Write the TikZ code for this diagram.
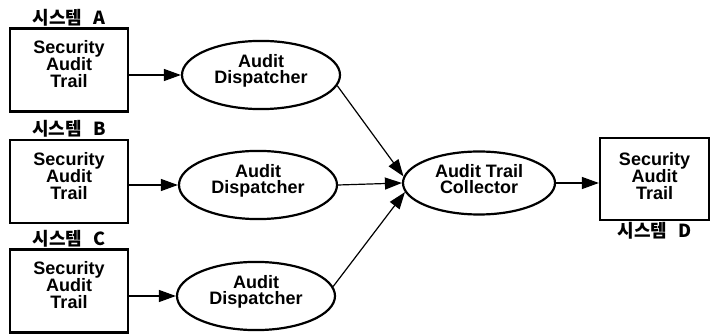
\documentclass[tikz,border=0pt]{standalone}
\usepackage{fontspec}
\setmainfont{Liberation Sans}
\newfontfamily\kor{Noto Sans CJK KR}
\usetikzlibrary{arrows.meta, shapes.geometric}

\tikzset{
    trailbox/.style={draw, line width=2.2pt, minimum width=118pt, minimum height=83pt,
        align=center, text depth=12pt, font=\bfseries\fontsize{18}{17}\selectfont},
    agent/.style={draw, ellipse, line width=2.2pt, minimum width=158pt, minimum height=64pt,
        align=center, text depth=12pt, font=\bfseries\fontsize{18}{16.5}\selectfont},
    sysname/.style={font=\kor\bfseries\fontsize{18}{18}\selectfont, inner sep=1pt},
    feed/.style={-{Triangle[length=17pt,width=12pt]}, line width=1.2pt}
}

\begin{document}
\begin{tikzpicture}[x=1pt,y=1pt]
    \useasboundingbox (0,0) rectangle (711,334);
    % the three source systems, each with its own dispatcher
    \foreach \n/\yb/\xd/\yd in {A/264/261/259, B/152.5/258/149, C/43/256/38}{%
        \node [trailbox, label={[sysname]above:시스템\hspace{11pt}\n}] (s\n) at (69,\yb) {Security\\Audit\\Trail};
        \node [agent] (d\n) at (\xd,\yd) {Audit\\Dispatcher};
        \draw [feed] (d\n.west -| s\n.east) -- (d\n.west);
    }
    % collecting side
    \node [agent, minimum width=152pt, minimum height=63pt, text depth=8pt] (coll) at (479,151) {Audit Trail\\Collector};
    \node [trailbox, minimum width=109pt, minimum height=82pt, text depth=6pt,
        label={[sysname]below:시스템\hspace{11pt}D}] (sD) at (654.5,155) {Security\\Audit\\Trail};
    \draw [feed] (dA.-8) -- (coll.175);
    \draw [feed] (dB.east) -- (coll.west);
    \draw [feed] (dC.7) -- (coll.187);
    \draw [feed] (coll.east) -- (coll.east -| sD.west);
\end{tikzpicture}
\end{document}
